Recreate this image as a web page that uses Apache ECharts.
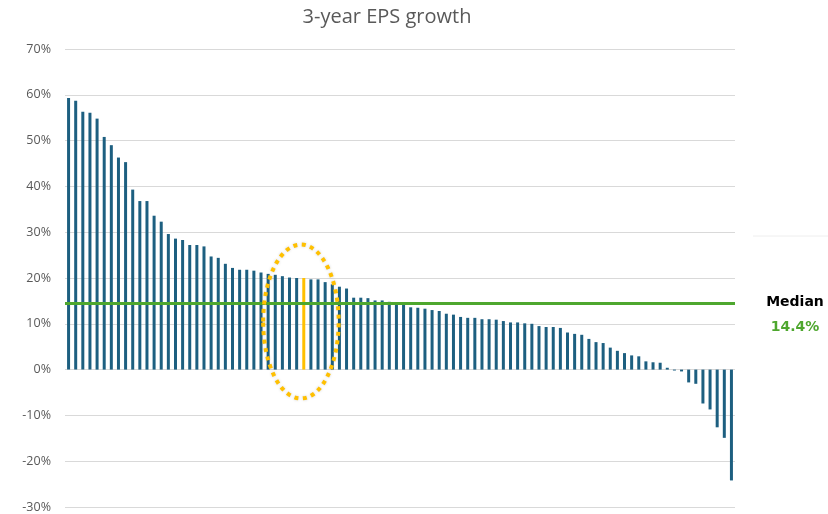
<!DOCTYPE html>
<html>
<head>
<meta charset="utf-8">
<title>3-year EPS growth</title>
<script src="https://cdn.jsdelivr.net/npm/echarts@6/dist/echarts.min.js"></script>
<style>
  html, body { margin: 0; padding: 0; background: #ffffff; }
  #chart { width: 828px; height: 514px; }
</style>
</head>
<body>
<div id="chart"></div>
<script>
// 3-year EPS growth per company, sorted from highest to lowest (%)
const growth = [
  59.3, 58.7, 56.3, 56.1, 54.8, 50.8, 49.0, 46.3, 45.3, 39.3,
  36.8, 36.8, 33.6, 32.3, 29.6, 28.6, 28.3, 27.2, 27.2, 26.9,
  24.7, 24.4, 23.1, 22.2, 21.8, 21.8, 21.6, 21.2, 20.9, 20.7,
  20.4, 20.1, 20.0, 20.0, 19.7, 19.7, 19.1, 18.6, 18.1, 17.7,
  15.7, 15.7, 15.6, 15.1, 15.1, 14.8, 14.5, 14.3, 13.6, 13.5,
  13.3, 13.0, 12.8, 12.2, 12.0, 11.5, 11.3, 11.3, 11.0, 11.0,
  10.9, 10.6, 10.3, 10.3, 10.1, 10.0, 9.5, 9.3, 9.3, 9.1,
  8.1, 7.8, 7.6, 6.7, 6.0, 5.8, 4.8, 4.1, 3.6, 3.1,
  2.9, 1.8, 1.6, 1.5, 0.4, -0.2, -0.4, -2.8, -3.1, -7.4,
  -8.7, -12.6, -14.9, -24.2
];
// Rank positions used as (hidden) category names
const ranks = growth.map((_, i) => String(i + 1));
// Company picked out in gold
const highlightIndex = 33;
// Median of the peer group (%)
const medianGrowth = 14.4;
// Value axis range and step (%)
const axisMin = -30;
const axisMax = 70;
const axisStep = 10;

const BAR = '#1D5F80';
const GOLD = '#FFC000';
const GREEN = '#4EA72E';
const GREY_TEXT = '#595959';

const chart = echarts.init(document.getElementById('chart'), null, { renderer: 'canvas' });

const barData = growth.map((v, i) =>
  i === highlightIndex ? { value: v, itemStyle: { color: GOLD } } : v
);

chart.setOption({
  backgroundColor: '#ffffff',
  animation: false,
  title: {
    text: '3-year EPS growth',
    left: 382,
    textAlign: 'center',
    top: 2,
    textStyle: {
      color: GREY_TEXT,
      fontSize: 20,
      fontWeight: 'normal',
      fontFamily: 'Open Sans, Liberation Sans, sans-serif'
    }
  },
  grid: { left: 65, right: 93, top: 49, bottom: 7 },
  xAxis: {
    type: 'category',
    data: ranks,
    axisLine: { show: false },
    axisTick: { show: false },
    axisLabel: { show: false },
    splitLine: { show: false }
  },
  yAxis: {
    type: 'value',
    min: axisMin,
    max: axisMax,
    interval: axisStep,
    axisLine: { show: false },
    axisTick: { show: false },
    axisLabel: {
      formatter: v => v + '%',
      color: GREY_TEXT,
      fontSize: 12.5,
      margin: 14,
      fontFamily: 'Open Sans, Liberation Sans, sans-serif'
    },
    splitLine: { lineStyle: { color: '#d9d9d9', width: 1 } }
  },
  series: [{
    type: 'bar',
    data: barData,
    barWidth: 3,
    itemStyle: { color: BAR },
    markLine: {
      silent: true,
      symbol: 'none',
      lineStyle: { color: GREEN, width: 3, type: 'solid' },
      data: [{ yAxis: medianGrowth }],
      label: {
        show: true,
        position: 'end',
        distance: 60,
        align: 'center',
        padding: [22, 0, 0, 0],
        formatter: () => '{a|Median}\n{b|' + medianGrowth.toFixed(1) + '%}',
        rich: {
          a: { fontSize: 14, fontWeight: 'bold', color: '#000000', lineHeight: 25, align: 'center',
               fontFamily: 'DejaVu Sans, sans-serif' },
          b: { fontSize: 14, fontWeight: 'bold', color: GREEN, lineHeight: 25, align: 'center',
               fontFamily: 'DejaVu Sans, sans-serif' }
        }
      }
    }
  }]
});

// Dotted gold ellipse around the highlighted company and its neighbours,
// placed from the axis scales.
const px = i => chart.convertToPixel({ xAxisIndex: 0 }, i);
const py = v => chart.convertToPixel({ yAxisIndex: 0 }, v);
const band = px(highlightIndex + 1) - px(highlightIndex);
const ellTop = py(27.3);
const ellBottom = py(-6.3);
chart.setOption({
  graphic: [
    {
      type: 'ellipse',
      shape: {
        cx: px(highlightIndex) - 0.4 * band,
        cy: (ellTop + ellBottom) / 2,
        rx: 5.3 * band,
        ry: (ellBottom - ellTop) / 2
      },
      style: {
        fill: 'none',
        stroke: GOLD,
        lineWidth: 4,
        lineDash: [4, 4.5],
        shadowBlur: 3,
        shadowColor: 'rgba(0,0,0,0.18)'
      },
      z: 10
    },
    {
      type: 'line',
      shape: { x1: 753, y1: 236, x2: 828, y2: 236 },
      style: { stroke: '#eeeeee', lineWidth: 1 },
      z: 1
    }
  ]
});
</script>
</body>
</html>
